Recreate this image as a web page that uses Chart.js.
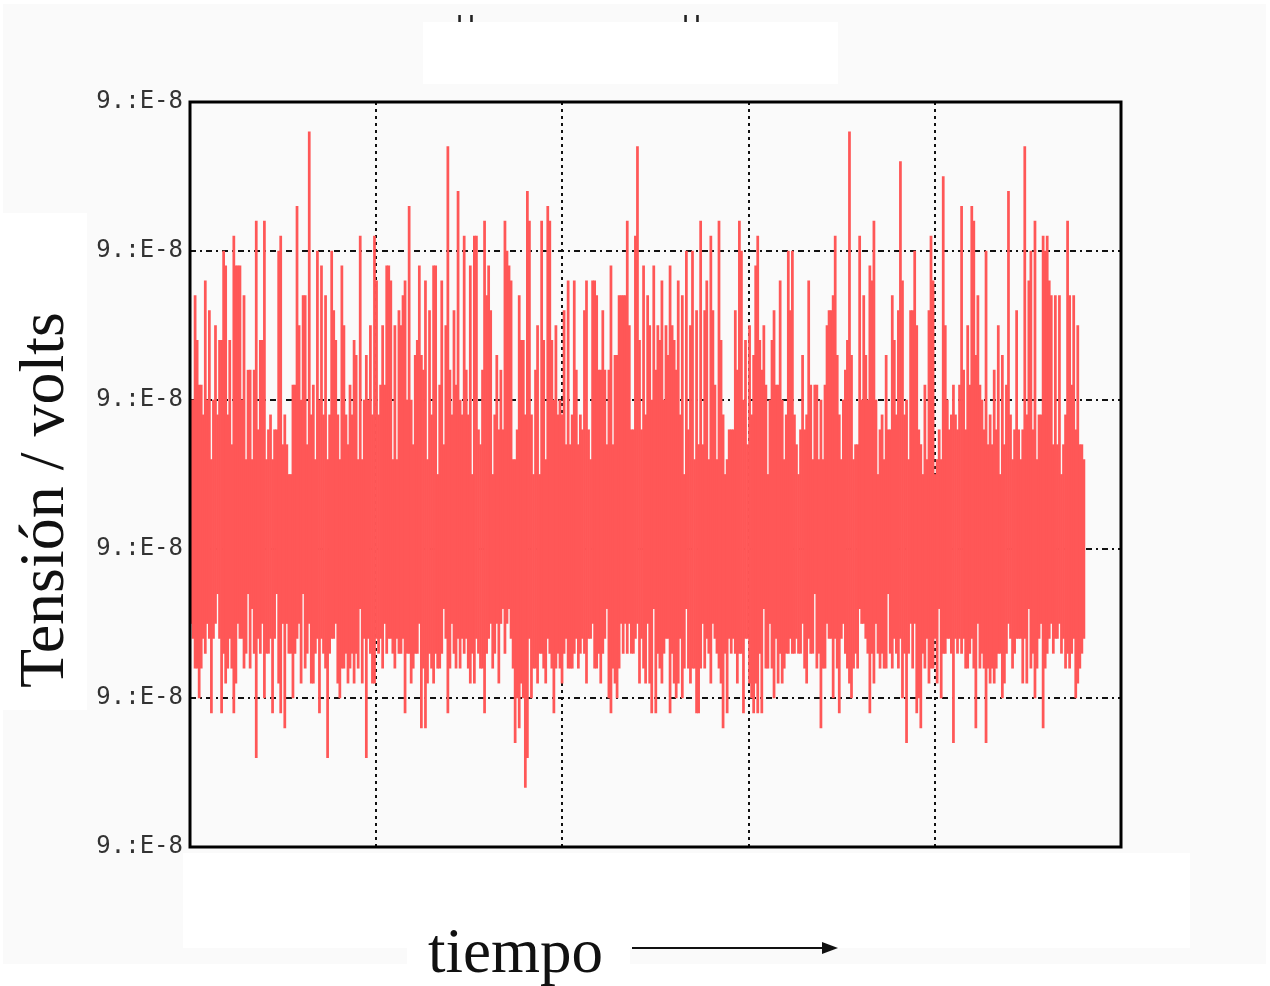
<!DOCTYPE html>
<html>
<head>
<meta charset="utf-8">
<title>Tensión / volts</title>
<script src="https://cdn.jsdelivr.net/npm/chart.js@4/dist/chart.umd.min.js"></script>
<style>
    html, body { margin: 0; padding: 0; background: #ffffff; }
    body { position: relative; width: 1270px; height: 986px; overflow: hidden; }
    #sheet { position: absolute; left: 3px; top: 4px; width: 1263px; height: 960px; background: #fafafa; }
    #noise-chart { position: absolute; left: 0; top: 0; }
    .mask { position: absolute; background: #ffffff; }
    .serif { position: absolute; font-family: "Liberation Serif", "Times New Roman", serif; color: #111; white-space: nowrap; line-height: 1; }
    .stub { position: absolute; font-family: "DejaVu Sans", sans-serif; font-size: 26px; line-height: 26px; color: #222; }
    #y-title { left: 42px; top: 500px; font-size: 64px; transform: translate(-50%, -50%) rotate(-90deg); }
    #x-title { left: 428px; top: 920px; font-size: 63px; }
    #arrow-line { position: absolute; left: 632px; top: 947px; width: 192px; height: 2px; background: #111; }
    #arrow-head { position: absolute; left: 822px; top: 942px; width: 0; height: 0;
                  border-left: 16px solid #111; border-top: 6px solid transparent; border-bottom: 6px solid transparent; }
</style>
</head>
<body>
<div id="sheet"></div>
<canvas id="noise-chart" width="1270" height="986"></canvas>

<span class="stub" style="left:456px; top:13px;">U</span>
<span class="stub" style="left:682px; top:13px;">U</span>
<div class="mask" style="left:423px; top:22px; width:415px; height:62px;"></div>
<div class="mask" style="left:0; top:213px; width:87px; height:497px;"></div>
<div class="mask" style="left:183px; top:853px; width:1007px; height:95px;"></div>
<div class="mask" style="left:407px; top:948px; width:223px; height:38px;"></div>

<div id="y-title" class="serif">Tensión / volts</div>
<div id="x-title" class="serif">tiempo</div>
<div id="arrow-line"></div>
<div id="arrow-head"></div>

<script>
// Envolvente de la señal, una columna por muestra.
// Niveles en décimas de división vertical (0 = línea central).
const envelopeHigh = [
    10, 10, 17, 14, 11, 11, 9, 18, 10, 16,
    6, 10, 15, 9, 14, 14, 20, 19, 9, 14,
    7, 21, 19, 19, 19, 10, 17, 6, 12, 12,
    6, 12, 22, 8, 14, 14, 22, 6, 8, 9,
    6, 8, 8, 20, 21, 7, 9, 7, 5, 5,
    11, 11, 23, 15, 10, 17, 17, 7, 28,
    9, 11, 6, 20, 10, 19, 9, 17, 6, 9,
    20, 16, 14, 9, 6, 19, 15, 9, 7, 11,
    9, 14, 13, 6, 21, 6, 10, 13, 10,
    15, 9, 21, 18, 9, 11, 15, 11, 19, 19,
    18, 6, 15, 6, 16, 15, 17, 18, 10,
    23, 10, 7, 13, 14, 19, 13, 12, 18, 6,
    16, 9, 19, 19, 5, 11, 18, 7, 15, 27,
    12, 9, 16, 11, 24, 10, 9, 21, 12,
    9, 19, 5, 21, 21, 8, 7, 12, 22, 17,
    19, 16, 5, 9, 13, 8, 12, 8, 22, 20,
    19, 18, 6, 6, 8, 17, 14, 14, 9, 24,
    22, 9, 5, 12, 15, 5, 22, 14, 6, 23,
    22, 14, 10, 15, 9, 10, 9, 16, 7,
    18, 7, 9, 18, 12, 7, 9, 8, 16,
    18, 8, 6, 18, 18, 17, 12, 12, 16, 12,
    7, 12, 19, 7, 13, 13, 17, 17, 17, 17,
    22, 15, 8, 8, 21,
    27, 14, 8, 19, 9, 17, 15, 10, 19,
    12, 15, 14, 18, 10, 15, 13, 19, 15, 14,
    12, 18, 9, 17, 5, 20, 8, 15, 20, 6,
    16, 7, 22, 7, 16, 18, 6, 21, 16, 11,
    6, 22, 14, 9, 5, 6, 8, 8, 8, 16,
    12, 22, 20, 10, 14, 7, 15, 9, 13, 19,
    21, 14, 12, 15, 11, 5, 10, 14, 16, 11,
    11, 18, 10, 6, 9, 20, 16, 20, 9, 7,
    5, 8, 13, 8, 9, 18, 11, 6, 11, 11,
    6, 10, 6, 11, 15, 16, 16, 17, 21, 13,
    9, 6, 10, 12, 14, 28, 13, 6, 7, 7,
    21, 10, 17, 13, 10, 19, 18, 22, 10, 5,
    8, 9, 6, 13, 8, 8, 17, 14, 9,
    16, 26, 18, 9, 10, 6, 16, 16, 20, 15,
    8, 7, 5, 11, 6, 16, 21, 18, 5, 6,
    8, 6, 25, 15, 10, 8, 9, 11, 9, 8,
    11, 23, 12, 8, 15, 11, 23, 22, 13, 17,
    11, 10, 8, 20, 7, 9, 7, 12, 8,
    15, 5, 13, 7, 11, 24, 9, 6, 8,
    16, 8, 6, 8, 27, 9, 18, 20, 8, 22,
    6, 9, 9, 21, 20, 21, 18, 17, 7, 17,
    7, 17, 5, 7, 9, 22, 17, 11, 17, 8,
    15, 7, 7, 6
];

const envelopeLow = [
    -5, -6, -8, -8, -10, -8, -6, -7, -5, -6,
    -11, -6, -5, -3, -6, -11, -7, -9, -8, -6,
    -8, -11, -9, -5, -6, -6, -8, -7, -3, -8,
    -4, -7, -14, -6, -7, -5, -10, -7, -7, -6,
    -11, -6, -3, -9, -11, -5, -12, -5, -7, -7,
    -10, -7, -6, -5, -9, -3, -8, -7, -5, -9,
    -9, -7, -6, -11, -6, -7, -8, -14, -7, -6,
    -6, -5, -9, -10, -8, -8, -7, -9, -8, -7,
    -9, -7, -8, -4, -9, -6, -14, -6, -7, -9,
    -9, -6, -7, -6, -8, -5, -7, -6, -6, -7,
    -8, -6, -7, -7, -6, -11, -7, -7, -9, -8,
    -7, -7, -5, -12, -8, -12, -9, -7, -8, -9,
    -7, -8, -8, -7, -4, -6, -11, -8, -5, -7,
    -8, -6, -8, -6, -7, -6, -8, -9, -7, -9,
    -6, -7, -8, -8, -11, -7, -6, -5, -8, -7,
    -5, -9, -5, -4, -7, -5, -4, -6, -8, -13,
    -10, -12, -9, -10, -16, -14, -6, -10, -8, -8,
    -9, -7, -7, -8, -9, -6, -7, -8, -11, -8, -7,
    -8, -9, -7, -6, -8, -8, -8, -7, -6, -8, -7,
    -6, -7, -9, -6, -6, -5, -8, -8, -7, -9,
    -7, -6, -4, -10, -11, -8, -9, -10, -8, -5,
    -7, -5, -7, -5, -7, -7, -6,
    -5, -9, -6, -8, -9, -5, -9, -11, -4, -11,
    -7, -8, -9, -7, -6, -6, -11, -7, -9, -10,
    -9, -6, -10, -8, -4, -8, -9, -8, -8, -11,
    -11, -8, -5, -8, -6, -7, -9, -5, -6, -7,
    -8, -9, -12, -7, -11, -6, -7, -6, -7, -9,
    -7, -7, -11, -6, -6, -9, -10, -11, -9, -11, -7,
    -11, -4, -8, -8, -5, -8, -10, -6, -9, -7,
    -9, -8, -7, -7, -6, -7, -7, -6, -7, -7,
    -5, -8, -9, -6, -7, -7, -3, -8, -7, -12,
    -8, -8, -5, -6, -6, -10, -6, -8, -11, -6, -5,
    -7, -8, -9, -10, -8, -7, -8, -4, -5, -5,
    -6, -7, -11, -7, -9, -5, -7, -8, -7, -8,
    -8, -3, -7, -8, -6, -7, -8, -6, -10, -7,
    -13, -7, -5, -8, -5, -11, -10, -12, -7, -8,
    -6, -9, -8, -8, -6, -9, -4, -10, -7, -7, -6,
    -6, -7, -13, -6, -7, -6, -7, -6, -8, -8,
    -7, -6, -8, -12, -5, -8, -7, -8, -13, -8,
    -9, -8, -9, -8, -7, -7, -10, -9, -7, -5, -6,
    -8, -7, -6, -6, -6, -9, -6, -9, -4, -8,
    -7, -10, -8, -6, -5, -12, -8, -7, -6, -5,
    -7, -6, -6, -5, -7, -6, -8, -7, -8, -7,
    -6, -10, -9, -8, -7, -6
];

const yTickLabels = ['9.:E-8', '9.:E-8', '9.:E-8', '9.:E-8', '9.:E-8', '9.:E-8'];
const xTickLabels = ['0', '10000', '20000', '30000', '40000', '50000'];

const X_MIN = -0.5;
const X_MAX = 456.2;

/** Marco negro grueso alrededor del área de trazado. */
const plotFrame = {
    id: 'plotFrame',
    afterDatasetsDraw(chart) {
        const { ctx, chartArea: a } = chart;
        ctx.save();
        ctx.strokeStyle = '#000';
        ctx.lineWidth = 3;
        ctx.strokeRect(a.left, a.top, a.right - a.left, a.bottom - a.top);
        ctx.restore();
    }
};

function renderNoiseChart() {
    const canvas = document.getElementById('noise-chart');
    const samples = envelopeHigh.map((high, i) => ({ x: i, y: [envelopeLow[i], high] }));

    window.noiseChart = new Chart(canvas, {
        type: 'bar',
        data: {
            datasets: [{
                data: samples,
                backgroundColor: '#ff5757',
                borderWidth: 0,
                barPercentage: 1,
                categoryPercentage: 1,
                inflateAmount: 0.35
            }]
        },
        options: {
            responsive: false,
            animation: false,
            layout: { padding: { left: 0, top: 102, right: 149, bottom: 139 } },
            plugins: { legend: { display: false }, tooltip: { enabled: false } },
            scales: {
                x: {
                    type: 'linear',
                    min: X_MIN,
                    max: X_MAX,
                    offset: false,
                    afterFit: (scale) => { scale.height = 0; },
                    afterBuildTicks: (scale) => {
                        const step = (scale.max - scale.min) / 5;
                        scale.ticks = xTickLabels.map((_, k) => ({ value: scale.min + k * step }));
                    },
                    grid: { offset: false, color: '#111', lineWidth: 2, drawTicks: false },
                    border: { display: false, dash: [3, 4] },
                    ticks: {
                        autoSkip: false,
                        maxRotation: 0,
                        padding: -7,
                        color: '#666',
                        font: { family: 'DejaVu Sans Mono', size: 24 },
                        callback: (value, index) => xTickLabels[index]
                    }
                },
                y: {
                    min: -20,
                    max: 30,
                    afterFit: (scale) => { scale.width = 190; },
                    grid: { color: '#111', lineWidth: 2, drawTicks: false },
                    border: { display: false, dash: [6, 4, 2, 4] },
                    ticks: {
                        stepSize: 10,
                        padding: 7,
                        color: '#333',
                        font: { family: 'DejaVu Sans Mono', size: 24 },
                        callback: (value, index) => yTickLabels[index]
                    }
                }
            }
        },
        plugins: [plotFrame]
    });
}

renderNoiseChart();
</script>
</body>
</html>
